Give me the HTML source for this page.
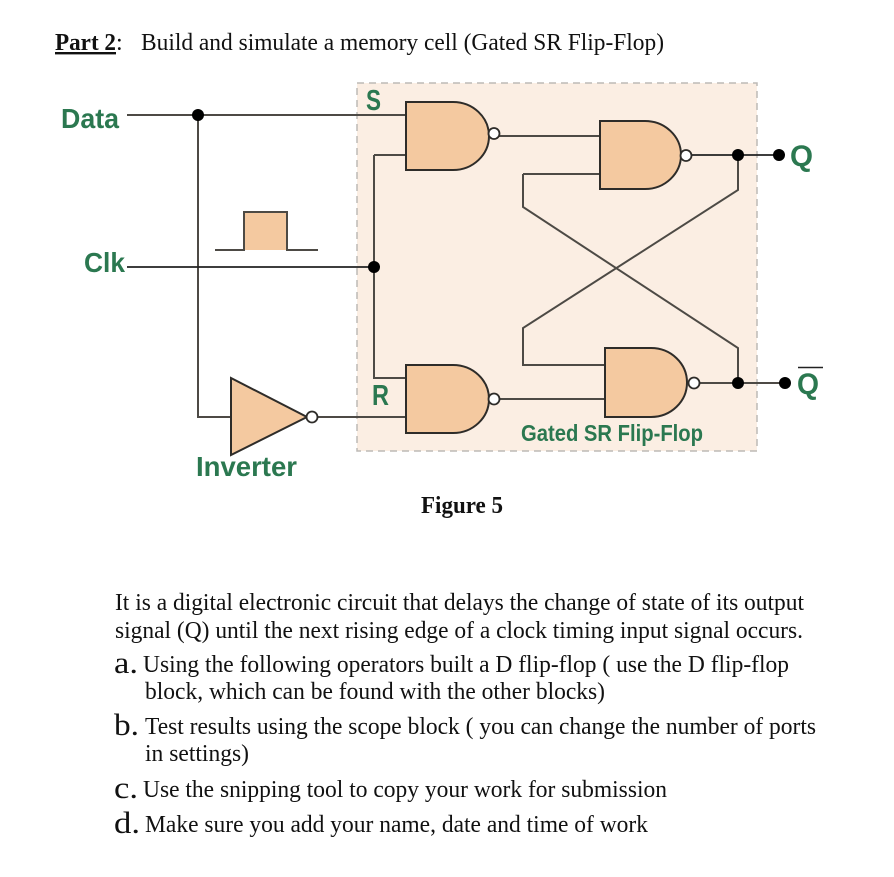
<!DOCTYPE html>
<html><head><meta charset="utf-8"><style>
html,body{margin:0;padding:0;background:#fff}
svg{display:block}
.t{font-family:"Liberation Serif",serif;fill:#111;font-size:24px}
.g{font-family:"Liberation Sans",sans-serif;font-weight:bold;fill:#2b7850}
.w{fill:none;stroke:#4d4a45;stroke-width:2}
.k{fill:none;stroke:#222;stroke-width:1.7}
.a{fill:#f4c9a0;stroke:#2e2c29;stroke-width:2}
.b{fill:#fff;stroke:#2e2c29;stroke-width:1.8}
.d{filter:blur(.3px)}
</style></head><body>
<svg width="894" height="877" viewBox="0 0 894 877" xmlns="http://www.w3.org/2000/svg">
<rect width="894" height="877" fill="#fff"/>
<g class="d">
<rect x="357" y="83" width="400" height="368" fill="#fbeee3" stroke="#bdbab6" stroke-width="1.5" stroke-dasharray="7 5"/>
<path class="w" d="M127 115H406M198 115V417H231M374 155V378H406M406 155H374M494 136H600M523 174H600M523 174V207L738 348V383M738 155V190L523 328V365H605M499 399H605"/>
<path class="k" d="M127 267H374M691 155H779"/>
<path class="w" d="M317 417H406M699 383H785"/>
<path d="M244 250V212H287V250Z" fill="#f4c9a0"/>
<path class="w" d="M215 250H244V212H287V250H318"/>
<path class="a" d="M231 378V455L307 417Z"/>
<path class="a" d="M406 102H453A36 34 0 0 1 453 170H406Z"/>
<path class="a" d="M406 365H453A36 34 0 0 1 453 433H406Z"/>
<path class="a" d="M600 121H645A36 34 0 0 1 645 189H600Z"/>
<path class="a" d="M605 348H651A36 34.500 0 0 1 651 417H605Z"/>
<circle class="b" cx="312" cy="417" r="5.500"/>
<circle class="b" cx="494" cy="133.500" r="5.500"/>
<circle class="b" cx="494" cy="399" r="5.500"/>
<circle class="b" cx="686" cy="155.500" r="5.500"/>
<circle class="b" cx="694" cy="383" r="5.500"/>
<g fill="#000">
<circle cx="198" cy="115" r="6"/><circle cx="374" cy="267" r="6"/><circle cx="738" cy="155" r="6"/><circle cx="779" cy="155" r="6"/><circle cx="738" cy="383" r="6"/><circle cx="785" cy="383" r="6"/>
</g>
<text class="g" x="61" y="128" font-size="28" textLength="58" lengthAdjust="spacingAndGlyphs">Data</text>
<text class="g" x="84" y="272" font-size="28" textLength="41" lengthAdjust="spacingAndGlyphs">Clk</text>
<text class="g" x="366" y="110" font-size="29" textLength="15" lengthAdjust="spacingAndGlyphs">S</text>
<text class="g" x="372" y="405" font-size="29" textLength="17" lengthAdjust="spacingAndGlyphs">R</text>
<text class="g" x="196" y="476" font-size="28" textLength="101" lengthAdjust="spacingAndGlyphs">Inverter</text>
<text class="g" x="521" y="441" font-size="23" textLength="182" lengthAdjust="spacingAndGlyphs">Gated SR Flip-Flop</text>
<text class="g" x="790" y="166" font-size="30" textLength="23" lengthAdjust="spacingAndGlyphs">Q</text>
<text class="g" x="797" y="394" font-size="30" textLength="22" lengthAdjust="spacingAndGlyphs">Q</text>
<path d="M798 367.500H823" stroke="#222" stroke-width="1.6"/>
</g>
<text class="t" x="55" y="50" font-weight="bold" text-decoration="underline" textLength="61" lengthAdjust="spacingAndGlyphs">Part 2</text>
<text class="t" x="116" y="50">:</text>
<text class="t" x="141" y="50" textLength="523" lengthAdjust="spacingAndGlyphs">Build and simulate a memory cell (Gated SR Flip-Flop)</text>
<text class="t" x="421" y="513" font-weight="bold" textLength="82" lengthAdjust="spacingAndGlyphs">Figure 5</text>
<text class="t" x="115" y="610" textLength="689" lengthAdjust="spacingAndGlyphs">It is a digital electronic circuit that delays the change of state of its output</text>
<text class="t" x="115" y="638" textLength="688" lengthAdjust="spacingAndGlyphs">signal (Q) until the next rising edge of a clock timing input signal occurs.</text>
<text class="t" x="114" y="673" style="font-size:31px" textLength="24" lengthAdjust="spacingAndGlyphs">a.</text>
<text class="t" x="143" y="672" textLength="646" lengthAdjust="spacingAndGlyphs">Using the following operators built a D flip-flop ( use the D flip-flop</text>
<text class="t" x="145" y="699" textLength="460" lengthAdjust="spacingAndGlyphs">block, which can be found with the other blocks)</text>
<text class="t" x="114" y="735" style="font-size:31px" textLength="25" lengthAdjust="spacingAndGlyphs">b.</text>
<text class="t" x="145" y="734" textLength="671" lengthAdjust="spacingAndGlyphs">Test results using the scope block ( you can change the number of ports</text>
<text class="t" x="145" y="761" textLength="104" lengthAdjust="spacingAndGlyphs">in settings)</text>
<text class="t" x="114" y="798" style="font-size:31px" textLength="24" lengthAdjust="spacingAndGlyphs">c.</text>
<text class="t" x="143" y="797" textLength="524" lengthAdjust="spacingAndGlyphs">Use the snipping tool to copy your work for submission</text>
<text class="t" x="114" y="833" style="font-size:31px" textLength="26" lengthAdjust="spacingAndGlyphs">d.</text>
<text class="t" x="145" y="832" textLength="503" lengthAdjust="spacingAndGlyphs">Make sure you add your name, date and time of work</text>
</svg>
</body></html>
